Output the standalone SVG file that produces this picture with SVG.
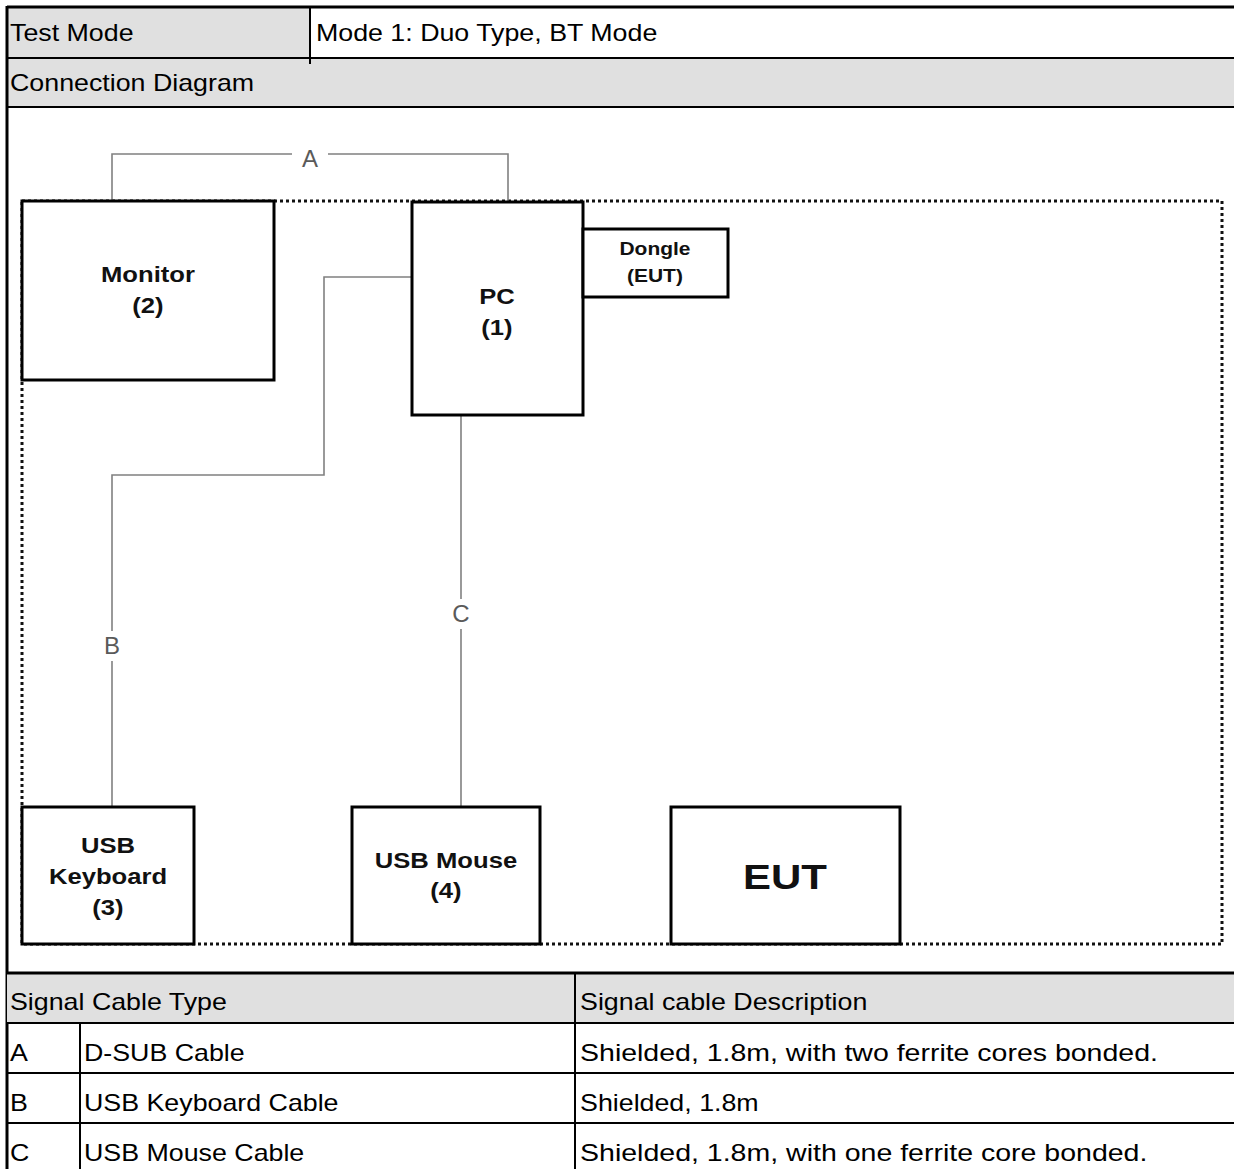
<svg xmlns="http://www.w3.org/2000/svg" width="1234" height="1169" viewBox="0 0 1234 1169">
<style>
.cell{fill:#e0e0e0}
.grid{stroke:#000;stroke-width:2;fill:none}
.outer{stroke:#000;stroke-width:3;fill:none}
.t{font-family:"Liberation Sans",Arial,sans-serif;font-size:23px;fill:#000}
.b{font-family:"Liberation Sans",Arial,sans-serif;font-weight:bold;fill:#111;text-anchor:middle}
.box{fill:#fff;stroke:#000;stroke-width:3}
.wire{fill:none;stroke:#808080;stroke-width:1.6}
.lbl{font-family:"Liberation Sans",Arial,sans-serif;font-size:24px;fill:#5a5a5a;text-anchor:middle}
.dot{fill:none;stroke:#111;stroke-width:3;stroke-dasharray:3 3}
</style>
<rect width="1234" height="1169" fill="#fff"/>
<g id="table-header">
<rect class="cell" x="7" y="7" width="303" height="51"/>
<rect class="cell" x="7" y="58" width="1227" height="49"/>
<line class="outer" x1="7" y1="7" x2="1234" y2="7"/>
<line class="grid" x1="7" y1="58" x2="1234" y2="58"/>
<line class="grid" x1="7" y1="107" x2="1234" y2="107"/>
<line class="grid" x1="310" y1="7" x2="310" y2="64"/>
<line class="outer" x1="7" y1="6" x2="7" y2="1169"/>
<g transform="scale(1.165 1)">
<text class="t" x="8.6" y="41">Test Mode</text>
<text class="t" x="271.2" y="41">Mode 1: Duo Type, BT Mode</text>
<text class="t" x="8.6" y="91">Connection Diagram</text>
</g>
</g>
<g id="boundary">
<rect class="dot" x="22" y="201" width="1200" height="743"/>
</g>
<g id="connectors">
<polyline class="wire" points="112,201 112,154 292,154"/>
<polyline class="wire" points="328,154 508,154 508,201"/>
<text class="lbl" x="310" y="167">A</text>
<polyline class="wire" points="412,277 324,277 324,475 112,475 112,631"/>
<line class="wire" x1="112" y1="661" x2="112" y2="807"/>
<text class="lbl" x="112" y="654">B</text>
<line class="wire" x1="461" y1="415" x2="461" y2="599"/>
<line class="wire" x1="461" y1="629" x2="461" y2="807"/>
<text class="lbl" x="461" y="622">C</text>
</g>
<g id="monitor">
<rect class="box" x="22" y="201" width="252" height="179"/>
<g transform="scale(1.165 1)"><text class="b" x="127" y="282" font-size="22">Monitor</text><text class="b" x="127" y="313" font-size="22">(2)</text></g>
</g>
<g id="pc">
<rect class="box" x="412" y="202" width="171" height="213"/>
<g transform="scale(1.165 1)"><text class="b" x="426.6" y="304" font-size="22">PC</text><text class="b" x="426.6" y="335" font-size="22">(1)</text></g>
</g>
<g id="dongle">
<rect class="box" x="583" y="229" width="145" height="68"/>
<g transform="scale(1.165 1)"><text class="b" x="562.2" y="255" font-size="18">Dongle</text><text class="b" x="562.2" y="282" font-size="18">(EUT)</text></g>
</g>
<g id="keyboard">
<rect class="box" x="22" y="807" width="172" height="137"/>
<g transform="scale(1.165 1)"><text class="b" x="92.7" y="853" font-size="22">USB</text><text class="b" x="92.7" y="884" font-size="22">Keyboard</text><text class="b" x="92.7" y="915" font-size="22">(3)</text></g>
</g>
<g id="mouse">
<rect class="box" x="352" y="807" width="188" height="137"/>
<g transform="scale(1.165 1)"><text class="b" x="382.8" y="868" font-size="22">USB Mouse</text><text class="b" x="382.8" y="898" font-size="22">(4)</text></g>
</g>
<g id="eut">
<rect class="box" x="671" y="807" width="229" height="137"/>
<g transform="scale(1.165 1)"><text class="b" x="673.8" y="889" font-size="36">EUT</text></g>
</g>
<g id="cable-table">
<rect class="cell" x="7" y="973" width="1227" height="50"/>
<line class="outer" x1="7" y1="973" x2="1234" y2="973"/>
<line class="grid" x1="7" y1="1023" x2="1234" y2="1023"/>
<line class="grid" x1="7" y1="1073" x2="1234" y2="1073"/>
<line class="grid" x1="7" y1="1123" x2="1234" y2="1123"/>
<line class="grid" x1="575" y1="973" x2="575" y2="1169"/>
<line class="grid" x1="80" y1="1023" x2="80" y2="1169"/>
<g transform="scale(1.165 1)">
<text class="t" x="8.6" y="1010">Signal Cable Type</text>
<text class="t" x="497.9" y="1010">Signal cable Description</text>
<text class="t" x="8.6" y="1061">A</text>
<text class="t" x="72.1" y="1061">D-SUB Cable</text>
<text class="t" x="497.9" y="1061" textLength="496" lengthAdjust="spacingAndGlyphs">Shielded, 1.8m, with two ferrite cores bonded.</text>
<text class="t" x="8.6" y="1111">B</text>
<text class="t" x="72.1" y="1111">USB Keyboard Cable</text>
<text class="t" x="497.9" y="1111">Shielded, 1.8m</text>
<text class="t" x="8.6" y="1161">C</text>
<text class="t" x="72.1" y="1161">USB Mouse Cable</text>
<text class="t" x="497.9" y="1161" textLength="487" lengthAdjust="spacingAndGlyphs">Shielded, 1.8m, with one ferrite core bonded.</text>
</g>
</g>
</svg>
